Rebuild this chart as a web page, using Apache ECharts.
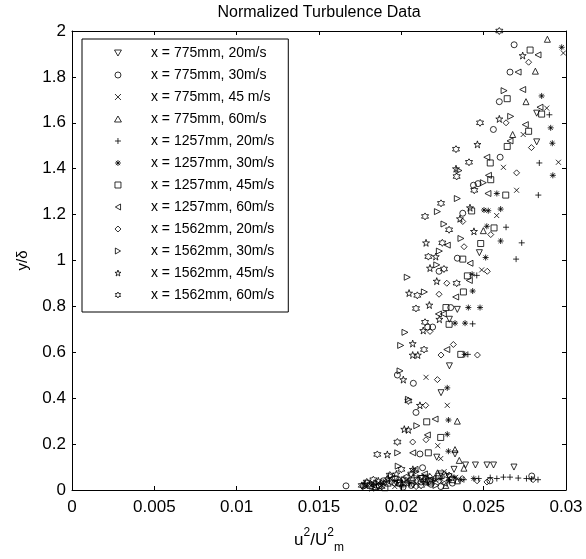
<!DOCTYPE html>
<html><head><meta charset="utf-8">
<script src="https://cdn.jsdelivr.net/npm/echarts@6/dist/echarts.min.js"></script>
<style>html,body{margin:0;padding:0;background:#fff}#c{width:586px;height:559px}</style>
</head><body><div id="c"></div>
<script>
// ---- data (u^2/U_m^2, y/delta) ----
const seriesNames = ['x = 775mm, 20m/s','x = 775mm, 30m/s','x = 775mm, 45 m/s','x = 775mm, 60m/s',
 'x = 1257mm, 20m/s','x = 1257mm, 30m/s','x = 1257mm, 45m/s','x = 1257mm, 60m/s',
 'x = 1562mm, 20m/s','x = 1562mm, 30m/s','x = 1562mm, 45m/s','x = 1562mm, 60m/s'];
const xTickLabels = ['0','0.005','0.01','0.015','0.02','0.025','0.03'];
const yTickLabels = ['0','0.2','0.4','0.6','0.8','1','1.2','1.4','1.6','1.8','2'];

const s775_20 = [[0.0186,0.012],[0.0207,0.022],[0.0218,0.04],[0.0229,0.058],
 [0.0199,0.03],[0.0212,0.05],[0.0224,0.07],[0.0232,0.09],[0.0239,0.109],[0.0245,0.109],[0.0252,0.109],[0.0256,0.109],[0.02684,0.1],
 [0.02215,0.143],[0.02326,0.157],[0.02241,0.424],[0.02292,0.541],[0.02292,0.744],[0.0234,0.787],[0.02474,1.034],[0.02822,1.517],[0.02822,1.642]];
const s775_30 = [[0.0179,0.03],[0.0189,0.04],[0.0201,0.012],[0.0212,0.035],[0.0224,0.015],[0.0231,0.03],
 [0.01664,0.018],[0.01769,0.018],[0.01866,0.018],[0.0196,0.03],[0.0206,0.02],[0.0218,0.025],[0.02538,0.04],[0.02792,0.061],
 [0.02129,0.097],[0.02113,0.157],[0.02089,0.338],[0.02073,0.465],[0.01976,0.501],[0.0216,0.71],[0.0219,0.71],[0.023,0.795],[0.02229,0.953],
 [0.0234,1.01],[0.02373,1.206],[0.02438,1.328],[0.02466,1.335],[0.026,1.45],[0.02559,1.571],[0.02595,1.692],[0.0266,1.821],[0.02685,1.94]];
const s775_45 = [[0.0196,0.015],[0.0209,0.028],[0.0221,0.045],[0.0233,0.055],
 [0.0188,0.02],[0.0203,0.04],[0.0216,0.06],[0.0226,0.08],[0.02239,0.137],[0.02221,0.193],[0.02279,0.369],[0.0215,0.491],
 [0.02488,0.959],[0.02579,1.196],[0.027,1.306],[0.0262,1.406],[0.02954,1.428],[0.0274,1.549],[0.02883,1.664],[0.02984,1.904]];
const s775_60 = [[0.0184,0.015],[0.0199,0.045],[0.0215,0.035],[0.0227,0.02],
 [0.0192,0.03],[0.0234,0.04],[0.0207,0.055],[0.0222,0.075],[0.0238,0.095],[0.02352,0.129],[0.02326,0.176],[0.0234,0.3],
 [0.02498,1.13],[0.02676,1.549],[0.02757,1.692],[0.02814,1.825],[0.02887,1.964]];
const s1257_20 = [[0.0205,0.03],[0.0219,0.04],[0.0229,0.045],[0.0258,0.05],[0.0279,0.048],[0.0283,0.045],
 [0.0238,0.045],[0.0247,0.05],[0.0254,0.054],[0.0262,0.056],[0.0266,0.056],[0.0271,0.052],[0.0276,0.05],
 [0.02404,0.591],[0.02433,0.724],[0.02458,0.935],[0.02697,1.006],[0.02731,1.077],[0.02636,1.145],[0.02832,1.285],[0.02838,1.425],[0.02899,1.635]];
const s1257_30 = [[0.0189,0.035],[0.0201,0.02],[0.0216,0.03],[0.0229,0.04],[0.0232,0.055],
 [0.0182,0.025],[0.0196,0.04],[0.021,0.055],[0.0224,0.05],[0.0236,0.045],[0.0244,0.05],[0.02286,0.169],[0.02279,0.243],
 [0.02286,0.305],[0.02279,0.445],[0.02385,0.591],[0.02326,0.727],[0.02387,0.727],[0.02407,0.795],[0.02478,0.795],[0.02433,0.867],[0.0243,0.94],
 [0.02512,1.013],[0.02603,1.085],[0.02519,1.149],[0.02502,1.22],[0.02528,1.217],[0.02603,1.224],[0.0258,1.292],[0.0292,1.371],[0.02917,1.511],
 [0.02907,1.578],[0.02852,1.717],[0.02974,1.929]];
const s1257_45 = [[0.019,0.01],[0.0206,0.04],[0.0218,0.035],[0.0231,0.045],
 [0.0181,0.02],[0.0199,0.03],[0.0213,0.05],[0.0223,0.06],[0.02164,0.162],[0.02239,0.229],[0.02154,0.297],[0.02361,0.591],
 [0.0229,0.722],[0.02271,0.795],[0.02377,0.863],[0.02401,0.933],[0.02373,1.006],[0.02482,1.074],[0.02563,1.142],[0.02427,1.216],[0.02634,1.285],
 [0.02543,1.352],[0.0254,1.425],[0.02643,1.497],[0.02773,1.563],[0.02852,1.638],[0.02643,1.705],[0.02782,1.917]];
const s1257_60 = [[0.0183,0.02],[0.0198,0.025],[0.0219,0.05],[0.0226,0.03],
 [0.0191,0.04],[0.0203,0.06],[0.0214,0.07],[0.02083,0.09],[0.02069,0.162],[0.02158,0.24],[0.02205,0.309],[0.02276,0.612],
 [0.02225,0.767],[0.02255,0.767],[0.0233,0.841],[0.02413,0.913],[0.02417,0.988],[0.02279,1.067],[0.02526,1.292],[0.02529,1.371],[0.02519,1.45],
 [0.0266,1.521],[0.02753,1.592],[0.02842,1.668],[0.02737,1.745],[0.02709,1.821],[0.0283,1.896]];
const s1562_20 = [[0.0194,0.035],[0.0209,0.015],[0.0223,0.04],[0.0237,0.05],[0.0246,0.04],
 [0.0187,0.025],[0.0201,0.045],[0.0217,0.06],[0.0229,0.065],[0.0252,0.035],[0.028,0.045],[0.02069,0.209],[0.0215,0.219],
 [0.02148,0.369],[0.02219,0.481],[0.02241,0.588],[0.02462,0.588],[0.02316,0.634],[0.02174,0.691],[0.02229,0.853],[0.02276,0.901],[0.02522,0.953],
 [0.02381,1.06],[0.02543,1.113],[0.02373,1.17],[0.027,1.382],[0.0279,1.492],[0.02636,1.6],[0.02773,1.864]];
const s1562_30 = [[0.0178,0.015],[0.0202,0.045],[0.0215,0.055],[0.0221,0.02],
 [0.0185,0.03],[0.0194,0.06],[0.0209,0.08],[0.01981,0.104],[0.01978,0.162],[0.02094,0.28],[0.02043,0.395],[0.01992,0.519],
 [0.01996,0.63],[0.02022,0.687],[0.0214,0.863],[0.02036,0.927],[0.02215,0.981],[0.02231,1.041],[0.02362,1.096],[0.02259,1.159],[0.02219,1.213],
 [0.0234,1.27],[0.02498,1.339],[0.0235,1.392],[0.02664,1.628],[0.02624,1.74]];
const s1562_45 = [[0.0182,0.01],[0.0192,0.05],[0.0204,0.03],[0.0214,0.045],[0.0227,0.065],
 [0.0178,0.025],[0.0186,0.04],[0.0197,0.07],[0.0207,0.09],[0.01915,0.155],[0.02018,0.265],[0.02043,0.262],[0.02113,0.369],
 [0.02012,0.481],[0.02069,0.588],[0.021,0.588],[0.02069,0.638],[0.02133,0.695],[0.02231,0.744],[0.0217,0.806],[0.02047,0.858],[0.02215,0.91],
 [0.02174,0.967],[0.02209,1.017],[0.0215,1.077],[0.02441,1.127],[0.02356,1.182],[0.02417,1.23],[0.02332,1.4],[0.02462,1.506],[0.02595,1.617],[0.02737,1.893]];
const s1562_60 = [[0.0179,0.035],[0.0188,0.015],[0.0196,0.05],[0.0206,0.07],[0.0212,0.02],
 [0.0176,0.02],[0.0183,0.045],[0.0193,0.065],[0.02,0.09],[0.01854,0.155],[0.01976,0.209],[0.02043,0.388],[0.02138,0.612],
 [0.02144,0.731],[0.02089,0.791],[0.02097,0.848],[0.02336,0.901],[0.02259,0.963],[0.02164,1.017],[0.02249,1.077],[0.0229,1.134],[0.02144,1.192],
 [0.02241,1.249],[0.02443,1.306],[0.02336,1.366],[0.02411,1.428],[0.02332,1.485],[0.02478,1.6],[0.02595,2.0]];

const allData = [s775_20,s775_30,s775_45,s775_60,s1257_20,s1257_30,s1257_45,s1257_60,s1562_20,s1562_30,s1562_45,s1562_60];

// marker shapes (MATLAB-like: v o x ^ + * s < d > p h)
const symbols = [
 'path://M0,0L10,0L5,8.66Z',
 'circle',
 'path://M0,0L10,10M10,0L0,10',
 'path://M5,0L10,8.66L0,8.66Z',
 'path://M5,0L5,10M0,5L10,5',
 'path://M5,0L5,10M0,5L10,5M1.5,1.5L8.5,8.5M8.5,1.5L1.5,8.5',
 'path://M0,0L10,0L10,10L0,10Z',
 'path://M0,5L8.66,0L8.66,10Z',
 'path://M5,0L10,5L5,10L0,5Z',
 'path://M0,0L8.66,5L0,10Z',
 'path://M5,0L6.18,3.6L9.76,3.6L6.9,5.8L7.94,9.5L5,7.2L2.06,9.5L3.1,5.8L0.24,3.6L3.82,3.6Z',
 'path://M5,0L6.4,2.5L9.33,2.5L7.9,5L9.33,7.5L6.4,7.5L5,10L3.6,7.5L0.67,7.5L2.1,5L0.67,2.5L3.6,2.5Z'
];
const symbolSizes = [6,6,5,6,6,6,6,6,6,6,7,7];

const font = 'Liberation Sans, Arial, sans-serif';
const chart = echarts.init(document.getElementById('c'), null, {renderer:'canvas'});
const axisCommon = {
  min: 0, axisLine:{show:true, onZero:false, lineStyle:{color:'#000', width:1}},
  axisTick:{show:true, inside:true, length:4, lineStyle:{color:'#000'}},
  splitLine:{show:false}
};
chart.setOption({
  animation:false,
  backgroundColor:'#fff',
  grid:{left:72, top:30, width:494, height:466, containLabel:false},
  xAxis:[
    Object.assign({}, axisCommon, {type:'value', position:'bottom', max:0.03, interval:0.005,
      axisLabel:{color:'#000', fontFamily:font, fontSize:17, margin:9, formatter:v=>xTickLabels[Math.round(v/0.005)]},
      name:'u{sup|2}/U{sup|2}{sub|m}', nameLocation:'middle', nameGap:37,
      nameTextStyle:{color:'#000', fontFamily:font, fontSize:17,
        rich:{sup:{fontSize:12, fontFamily:font, color:'#000', verticalAlign:'top', lineHeight:27},
              sub:{fontSize:12, fontFamily:font, color:'#000', verticalAlign:'bottom', lineHeight:27}}}}),
    Object.assign({}, axisCommon, {type:'value', position:'top', max:0.03, interval:0.005,
      axisLabel:{show:false},
      name:'Normalized Turbulence Data', nameLocation:'middle', nameGap:10,
      nameTextStyle:{color:'#000', fontFamily:font, fontSize:16}})
  ],
  yAxis:[
    Object.assign({}, axisCommon, {type:'value', position:'left', max:2, interval:0.2,
      axisLabel:{color:'#000', fontFamily:font, fontSize:17, margin:6, formatter:v=>yTickLabels[Math.round(v/0.2)]},
      name:'y/δ', nameLocation:'middle', nameGap:42, nameRotate:90,
      nameTextStyle:{color:'#000', fontFamily:font, fontSize:15}}),
    Object.assign({}, axisCommon, {type:'value', position:'right', max:2, interval:0.2,
      axisLabel:{show:false}})
  ],
  legend:{
    orient:'vertical', left:82, top:39,
    data: seriesNames,
    itemWidth:56, itemHeight:6, itemGap:8,
    padding:[7,14,10,30],
    backgroundColor:'#fff', borderColor:'#000', borderWidth:1,
    textStyle:{color:'#000', fontFamily:font, fontSize:14, lineHeight:14},
    itemStyle:{color:'none', borderColor:'#000', borderWidth:1},
    selectedMode:false
  },
  series: seriesNames.map((n,i)=>({
    name:n, type:'scatter', xAxisIndex:0, yAxisIndex:0,
    data: allData[i], symbol: symbols[i], symbolSize: symbolSizes[i],
    itemStyle:{color:'none', borderColor:'#000', borderWidth:1},
    emphasis:{disabled:true}, silent:true, clip:false
  }))
});
</script></body></html>
